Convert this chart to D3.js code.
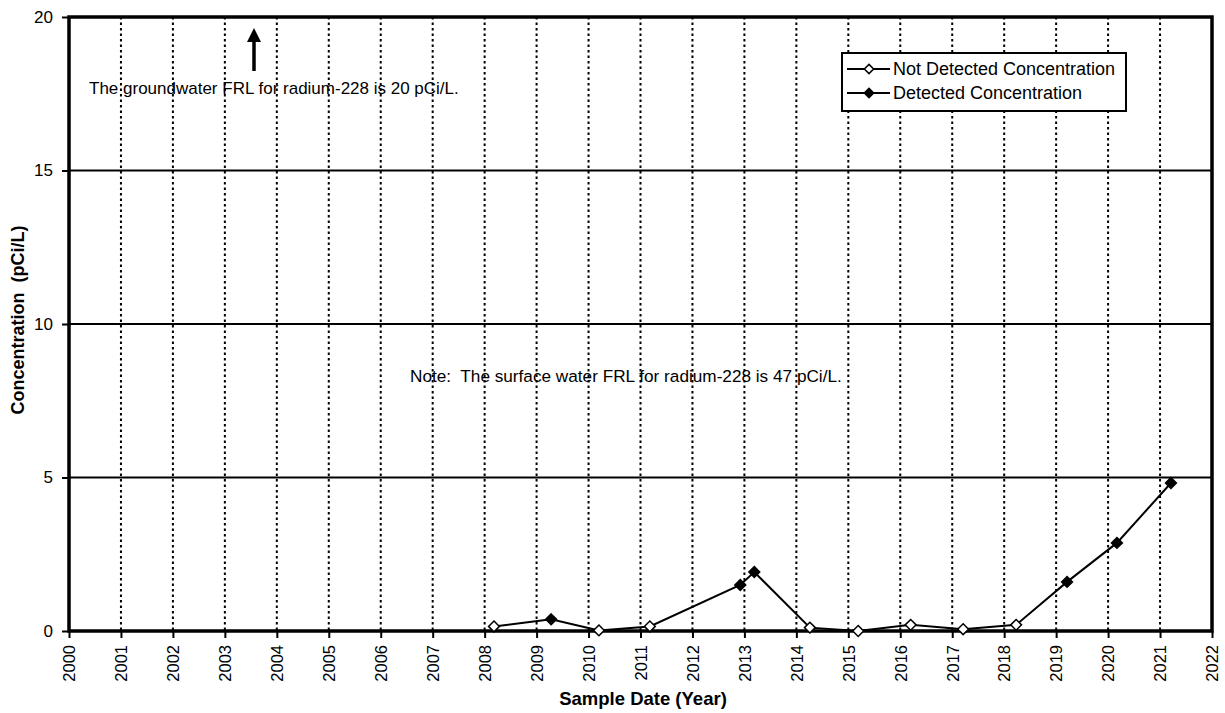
<!DOCTYPE html>
<html>
<head>
<meta charset="utf-8">
<script src="https://cdn.jsdelivr.net/npm/d3@7"></script>
<style>
  html, body { margin: 0; padding: 0; background: #fff; }
  svg { display: block; font-family: "Liberation Sans", Arial, sans-serif; }
</style>
</head>
<body>
<svg id="chart" width="1225" height="713"></svg>
<script>
// Radium-228 sample results (pCi/L) by sample date (decimal year)
const sampleDates = [2008.18, 2009.28, 2010.20, 2011.18, 2012.92, 2013.19, 2014.26,
                     2015.19, 2016.20, 2017.21, 2018.23, 2019.21, 2020.17, 2021.21];
const concentrations = [0.15, 0.38, 0.02, 0.15, 1.50, 1.92, 0.11,
                        0.00, 0.20, 0.06, 0.20, 1.60, 2.87, 4.82];
const detected = [false, true, false, false, true, true, false,
                  false, false, false, false, true, true, true];

const yearTicks = d3.range(2000, 2023);
const concTicks = [0, 5, 10, 15, 20];
const legendLabels = ["Not Detected Concentration", "Detected Concentration"];

const svg = d3.select("#chart");
const plotLeft = 69, plotRight = 1212, plotTop = 17, plotBottom = 631;

const x = d3.scaleLinear().domain([2000, 2022]).range([plotLeft, plotRight]);
const y = d3.scaleLinear().domain([0, 20]).range([plotBottom, plotTop]);

// Vertical dotted year gridlines
svg.append("g").selectAll("line")
  .data(yearTicks.slice(1, -1))
  .join("line")
  .attr("x1", d => x(d)).attr("x2", d => x(d))
  .attr("y1", plotTop).attr("y2", plotBottom)
  .attr("stroke", "#000").attr("stroke-width", 2)
  .attr("stroke-dasharray", "2.5,3");

// Horizontal solid gridlines
svg.append("g").selectAll("line")
  .data(concTicks.slice(1, -1))
  .join("line")
  .attr("x1", plotLeft).attr("x2", plotRight)
  .attr("y1", d => y(d)).attr("y2", d => y(d))
  .attr("stroke", "#000").attr("stroke-width", 2);

// Y axis
const yAxis = svg.append("g")
  .attr("transform", `translate(${plotLeft},0)`)
  .call(d3.axisLeft(y).tickValues(concTicks).tickSize(7).tickPadding(9));
yAxis.select(".domain").remove();
yAxis.selectAll(".tick line").attr("stroke-width", 2);
yAxis.selectAll(".tick text")
  .attr("font-size", 17).attr("fill", "#000")
  .attr("font-family", "Liberation Sans, Arial, sans-serif");

// X axis
const xAxis = svg.append("g")
  .attr("transform", `translate(0,${plotBottom})`)
  .call(d3.axisBottom(x).tickValues(yearTicks).tickFormat(d3.format("d")).tickSize(7));
xAxis.select(".domain").remove();
xAxis.selectAll(".tick line").attr("stroke-width", 2);
xAxis.selectAll(".tick text")
  .attr("font-size", 16.5).attr("fill", "#000")
  .attr("font-family", "Liberation Sans, Arial, sans-serif")
  .attr("transform", "rotate(-90)")
  .attr("text-anchor", "end")
  .attr("x", -14).attr("y", 0).attr("dy", "0.35em");

// Plot frame
svg.append("rect")
  .attr("x", plotLeft).attr("y", plotTop)
  .attr("width", plotRight - plotLeft).attr("height", plotBottom - plotTop)
  .attr("fill", "none").attr("stroke", "#000").attr("stroke-width", 3.5);

// Concentration line
const pts = sampleDates.map((d, i) => ({ date: d, value: concentrations[i], det: detected[i] }));
svg.append("path")
  .datum(pts)
  .attr("fill", "none").attr("stroke", "#000").attr("stroke-width", 2)
  .attr("d", d3.line().x(d => x(d.date)).y(d => y(d.value)));

const diamond = d3.symbol().type(d3.symbolDiamond2).size(75);
svg.append("g").selectAll("path")
  .data(pts)
  .join("path")
  .attr("transform", d => `translate(${x(d.date)},${y(d.value)})`)
  .attr("d", diamond)
  .attr("fill", d => d.det ? "#000" : "#fff")
  .attr("stroke", "#000").attr("stroke-width", 1.5);

// Annotations
svg.append("text")
  .attr("x", 89).attr("y", 94)
  .attr("font-size", 17).attr("fill", "#000")
  .text("The groundwater FRL for radium-228 is 20 pCi/L.");

// Upward arrow pointing toward the groundwater FRL
svg.append("line")
  .attr("x1", 254).attr("x2", 254).attr("y1", 71).attr("y2", 40)
  .attr("stroke", "#000").attr("stroke-width", 3.5);
svg.append("path")
  .attr("d", "M247,42 L254,28 L261,42 Z")
  .attr("fill", "#000");

svg.append("text")
  .attr("x", 410).attr("y", 382)
  .attr("font-size", 17.2).attr("fill", "#000")
  .attr("xml:space", "preserve")
  .text("Note:  The surface water FRL for radium-228 is 47 pCi/L.");

// Axis titles
svg.append("text")
  .attr("x", 643).attr("y", 705)
  .attr("text-anchor", "middle")
  .attr("font-size", 18.5).attr("font-weight", "bold")
  .text("Sample Date (Year)");

svg.append("text")
  .attr("transform", `translate(23.5,320) rotate(-90)`)
  .attr("text-anchor", "middle")
  .attr("font-size", 18).attr("font-weight", "bold")
  .attr("xml:space", "preserve")
  .text("Concentration  (pCi/L)");

// Legend
const legend = svg.append("g");
legend.append("rect")
  .attr("x", 842).attr("y", 53).attr("width", 284).attr("height", 58)
  .attr("fill", "#fff").attr("stroke", "#000").attr("stroke-width", 2);
const legendDiamond = d3.symbol().type(d3.symbolDiamond2).size(55);
legendLabels.forEach((label, i) => {
  const cy = 69 + i * 24;
  legend.append("line")
    .attr("x1", 847).attr("x2", 890).attr("y1", cy).attr("y2", cy)
    .attr("stroke", "#000").attr("stroke-width", 2);
  legend.append("path")
    .attr("transform", `translate(869,${cy})`)
    .attr("d", legendDiamond)
    .attr("fill", i === 0 ? "#fff" : "#000")
    .attr("stroke", "#000").attr("stroke-width", 1.5);
  legend.append("text")
    .attr("x", 893).attr("y", cy).attr("dy", "0.35em")
    .attr("font-size", 18).attr("fill", "#000")
    .text(label);
});
</script>
</body>
</html>
